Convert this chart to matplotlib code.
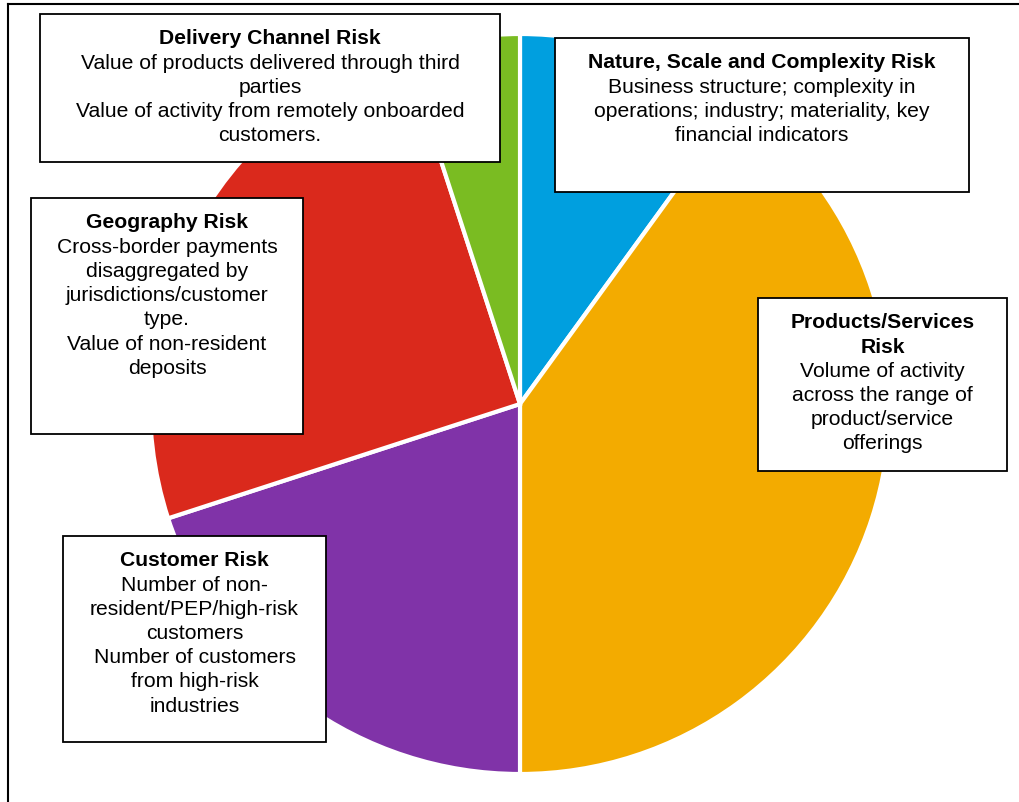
"""
Risk factor pie chart with text boxes.
"""

# %% imports
import matplotlib.pyplot as plt
from matplotlib.patches import Rectangle


# %% data
titles = [['Nature, Scale and Complexity Risk'],
          ['Products/Services', 'Risk'],
          ['Customer Risk'],
          ['Geography Risk'],
          ['Delivery Channel Risk']]
shares = [10, 40, 20, 25, 5]   # percent, clockwise from 12 o'clock
colors = ['#009fdf', '#f3ab00', '#8033a8', '#da291c', '#7abc22']
descriptions = [
    ['Business structure; complexity in', 'operations; industry; materiality, key',
     'financial indicators'],
    ['Volume of activity', 'across the range of', 'product/service', 'offerings'],
    ['Number of non-', 'resident/PEP/high-risk', 'customers', 'Number of customers',
     'from high-risk', 'industries'],
    ['Cross-border payments', 'disaggregated by', 'jurisdictions/customer', 'type.',
     'Value of non-resident', 'deposits'],
    ['Value of products delivered through third', 'parties',
     'Value of activity from remotely onboarded', 'customers.'],
]

# box layout in pixels (left, top, right, bottom), measured from the top-left
boxes = [
    (555, 39, 969, 193),
    (758, 299, 1007, 472),
    (63, 537, 326, 743),
    (31, 199, 303, 435),
    (40, 15, 500, 163),
]

W, H = 1019, 803
pitch = 24.2     # line pitch in px
first = 29.5     # first baseline below box top


# %% figure
plt.rcParams['font.family'] = ['Liberation Sans', 'DejaVu Sans']
fig = plt.figure(figsize=(W / 100, H / 100), dpi=100)
ax = fig.add_axes([0, 0, 1, 1])

ax.pie(shares, colors=colors, startangle=90, counterclock=False,
       center=(520, H - 405), radius=370,
       wedgeprops=dict(edgecolor='white', linewidth=3))
ax.set_xlim(0, W)
ax.set_ylim(0, H)
ax.set_aspect('equal')
ax.axis('off')

# outer frame (top and left edges visible)
ax.plot([8, W], [H - 5, H - 5], color='black', lw=1.5, zorder=1)
ax.plot([8, 8], [H - 5, 0], color='black', lw=1.5, zorder=1)

for title, desc, (l, t, r, b) in zip(titles, descriptions, boxes):
    ax.add_patch(Rectangle((l, H - b), r - l, b - t, facecolor='white',
                           edgecolor='black', lw=1.3, zorder=3))
    cx = (l + r) / 2
    y = H - t - first
    for line in title:
        ax.text(cx, y, line, ha='center', va='baseline', fontsize=15.2,
                fontweight='bold', zorder=4)
        y -= pitch
    for line in desc:
        ax.text(cx, y, line, ha='center', va='baseline', fontsize=15.2,
                zorder=4)
        y -= pitch

fig.savefig('out.png', dpi=100)
